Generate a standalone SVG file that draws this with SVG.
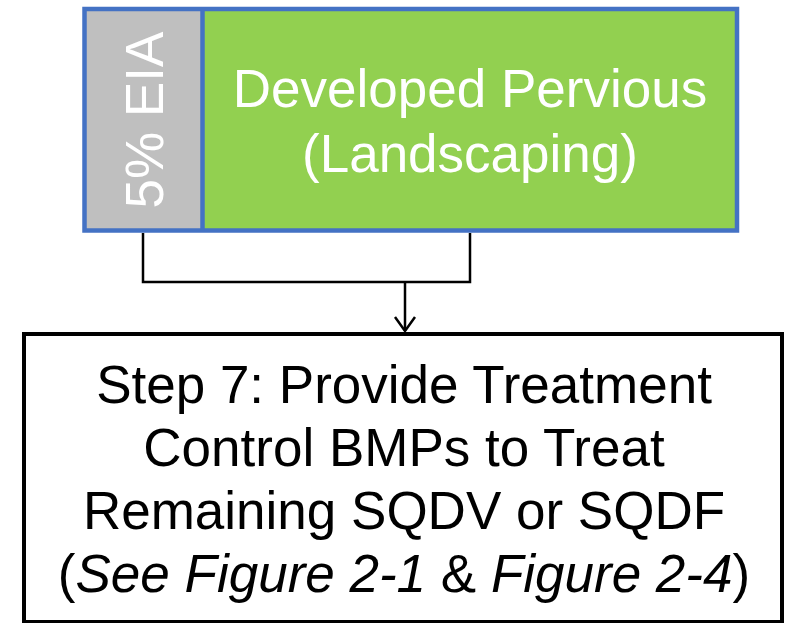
<svg xmlns="http://www.w3.org/2000/svg" width="790" height="623" viewBox="0 0 790 623">
<defs>
<style>
.t{font-family:"Liberation Sans",Arial,sans-serif;font-size:53px;text-anchor:middle}
.w{fill:#FFFFFF}
.k{fill:#000000}
.ln{fill:none;stroke:#000000;stroke-width:2.5}
</style>
<marker id="arr" viewBox="0 0 18 24" refX="16" refY="12" markerWidth="18" markerHeight="24" markerUnits="userSpaceOnUse" orient="auto">
<path d="M2,2 L16,12 L2,22" fill="none" stroke="#000000" stroke-width="2.5"/>
</marker>
</defs>
<rect width="790" height="623" fill="#FFFFFF"/>
<g id="eia">
<rect x="84.5" y="9" width="118" height="221.5" fill="#BFBFBF"/>
<text class="t w" transform="translate(163,120) rotate(-90)">5% EIA</text>
</g>
<g id="pervious">
<rect x="202.5" y="9" width="534.5" height="221.5" fill="#92D050"/>
<text class="t w" x="470" y="107">Developed Pervious</text>
<text class="t w" x="470" y="172">(Landscaping)</text>
</g>
<g id="frame">
<rect x="84.5" y="9" width="652.5" height="221.5" fill="none" stroke="#4472C4" stroke-width="4.5"/>
<line x1="202.5" y1="9" x2="202.5" y2="230.5" stroke="#4472C4" stroke-width="4.5"/>
</g>
<g id="step7">
<rect x="24" y="334" width="758" height="288" fill="#FFFFFF" stroke="#000000" stroke-width="4"/>
<text class="t k" x="404" y="403">Step 7: Provide Treatment</text>
<text class="t k" x="404" y="466">Control BMPs to Treat</text>
<text class="t k" x="404" y="529">Remaining SQDV or SQDF</text>
<text class="t k" x="404" y="592">(<tspan font-style="italic">See Figure 2-1</tspan> &amp; <tspan font-style="italic">Figure 2-4</tspan>)</text>
</g>
<g id="connectors">
<path class="ln" d="M143,233 V282 H470 V233"/>
<path class="ln" d="M405,282 V331" marker-end="url(#arr)"/>
</g>
</svg>
